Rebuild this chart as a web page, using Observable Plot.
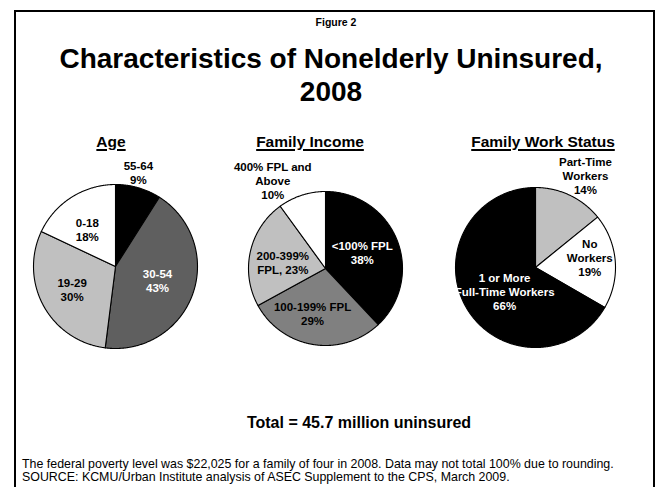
<!DOCTYPE html>
<html>
<head>
<meta charset="utf-8">
<script src="https://cdn.jsdelivr.net/npm/d3@7"></script>
<script src="https://cdn.jsdelivr.net/npm/@observablehq/plot@0.6"></script>
<style>
  html, body { margin: 0; padding: 0; background: #fff; }
  body { width: 657px; height: 487px; position: relative; overflow: hidden;
         font-family: "Liberation Sans", Arial, sans-serif; color: #000; }
  #frame { position: absolute; left: 14px; top: 10px; width: 637px; height: 475px;
           border: 2px solid #000; border-bottom: none; }
  .t { position: absolute; white-space: nowrap; }
  .pie { position: absolute; }
</style>
</head>
<body>
<div id="frame"></div>
<script>
// ---------------- DATA ----------------
const ageGroups   = ["55-64", "30-54", "19-29", "0-18"];
const agePct      = [9, 43, 30, 18];

const incomeGroups = ["<100% FPL", "100-199% FPL", "200-399% FPL", "400% FPL and Above"];
const incomeLabelNames = ["<100% FPL", "100-199% FPL", "200-399%\nFPL,", "400% FPL and\nAbove"];
const incomePct    = [38, 29, 23, 10];

const workGroups = ["Part-Time Workers", "No Workers", "1 or More Full-Time Workers"];
const workLabelNames = ["Part-Time\nWorkers", "No\nWorkers", "1 or More\nFull-Time Workers"];
const workPct    = [14, 19, 66];

const panelTitles = ["Age", "Family Income", "Family Work Status"];
const figureLabel = "Figure 2";
const titleLines  = ["Characteristics of Nonelderly Uninsured,", "2008"];
const totalText   = "Total = 45.7 million uninsured";
const noteLines   = [
  "The federal poverty level was $22,025 for a family of four in 2008. Data may not total 100% due to rounding.",
  "SOURCE: KCMU/Urban Institute analysis of ASEC Supplement to the CPS, March 2009."
];

// ---------------- STYLE / LAYOUT ----------------
const ageColors    = ["#000000", "#5f5f5f", "#c0c0c0", "#ffffff"];
const ageLabelCol  = ["black", "white", "black", "black"];
const ageLabelPos  = [[1.18, -2.5], [0.54, -1.4], [0.60, 0.7], [0.57, -4.7]];

const incColors    = ["#000000", "#808080", "#c0c0c0", "#ffffff"];
const incLabelCol  = ["white", "black", "black", "black"];
const incLabelPos  = [[0.52, -1.8], [0.61, 7], [0.56, -4.6], [1.33, -13]];

const workColors   = ["#c0c0c0", "#ffffff", "#000000"];
const workLabelCol = ["black", "black", "white"];
const workLabelPos = [[1.31, 3], [0.69, -6], [0.49, -8]];

const FONT = '"Liberation Sans", Arial, sans-serif';

function placeText(text, {x, baseline, fs, bold = false, anchor = "middle", underline = false}) {
  const d = document.createElement("div");
  d.className = "t";
  d.textContent = text;
  d.style.fontSize = fs + "px";
  d.style.lineHeight = fs + "px";
  d.style.top = (baseline - 0.8465 * fs) + "px";
  d.style.fontWeight = bold ? "bold" : "normal";
  if (underline) { d.style.textDecoration = "underline"; d.style.textUnderlineOffset = "2px"; d.style.textDecorationThickness = "2px"; }
  d.style.left = x + "px";
  if (anchor === "middle") d.style.transform = "translateX(-50%)";
  document.body.appendChild(d);
}

function drawPie({names, labelNames, pct, colors, labelColors, labelPos, cx, cy, r}) {
  const arcs = d3.pie().sort(null).value(d => d)(pct);
  const pts = [];
  arcs.forEach((a, i) => {
    const n = Math.max(2, Math.ceil((a.endAngle - a.startAngle) / (Math.PI / 360)));
    pts.push({slice: names[i], x: 0, y: 0, color: colors[i]});
    for (let k = 0; k <= n; k++) {
      const t = a.startAngle + (a.endAngle - a.startAngle) * k / n;
      pts.push({slice: names[i], x: Math.sin(t), y: Math.cos(t), color: colors[i]});
    }
    pts.push({slice: names[i], x: 0, y: 0, color: colors[i]});
  });
  const labels = arcs.map((a, i) => {
    const m = (a.startAngle + a.endAngle) / 2 + labelPos[i][1] * Math.PI / 180;
    const rr = labelPos[i][0];
    const nm = labelNames[i];
    const sep = nm.endsWith(",") ? " " : "\n";
    return {x: rr * Math.sin(m), y: rr * Math.cos(m), text: nm + sep + pct[i] + "%", color: labelColors[i]};
  });
  const S = 230, k = S / (2 * r);
  const chart = Plot.plot({
    width: S, height: S, margin: 0,
    x: {domain: [-k, k], axis: null},
    y: {domain: [-k, k], axis: null},
    color: {type: "identity"},
    style: {background: "transparent", fontFamily: FONT, overflow: "visible"},
    marks: [
      Plot.line(pts, {x: "x", y: "y", z: "slice", fill: "color", stroke: "black", strokeWidth: 1.1, strokeLinejoin: "round"}),
      Plot.text(labels, {x: "x", y: "y", text: "text", fill: "color", fontWeight: "bold", fontSize: 11.5, lineHeight: 1.22})
    ]
  });
  const wrap = document.createElement("div");
  wrap.className = "pie";
  wrap.style.left = (cx - S / 2) + "px";
  wrap.style.top = (cy - S / 2) + "px";
  wrap.appendChild(chart);
  document.body.appendChild(wrap);
}

// ---------------- TEXT ----------------
placeText(figureLabel, {x: 336, baseline: 26, fs: 10.5, bold: true});
placeText(titleLines[0], {x: 331, baseline: 69, fs: 28, bold: true});
placeText(titleLines[1], {x: 331, baseline: 102, fs: 28, bold: true});

placeText(panelTitles[0], {x: 111, baseline: 147, fs: 15.5, bold: true, underline: true});
placeText(panelTitles[1], {x: 310, baseline: 147, fs: 15.5, bold: true, underline: true});
placeText(panelTitles[2], {x: 543, baseline: 147, fs: 15.5, bold: true, underline: true});

placeText(totalText, {x: 359, baseline: 429, fs: 16, bold: true});
placeText(noteLines[0], {x: 22, baseline: 468, fs: 12.4, anchor: "start"});
placeText(noteLines[1], {x: 22, baseline: 481, fs: 12.4, anchor: "start"});

// ---------------- PIES ----------------
drawPie({names: ageGroups, labelNames: ageGroups, pct: agePct, colors: ageColors,
         labelColors: ageLabelCol, labelPos: ageLabelPos, cx: 115, cy: 266, r: 82});
drawPie({names: incomeGroups, labelNames: incomeLabelNames, pct: incomePct, colors: incColors,
         labelColors: incLabelCol, labelPos: incLabelPos, cx: 325, cy: 268, r: 77});
drawPie({names: workGroups, labelNames: workLabelNames, pct: workPct, colors: workColors,
         labelColors: workLabelCol, labelPos: workLabelPos, cx: 535, cy: 267, r: 80});
</script>
</body>
</html>
